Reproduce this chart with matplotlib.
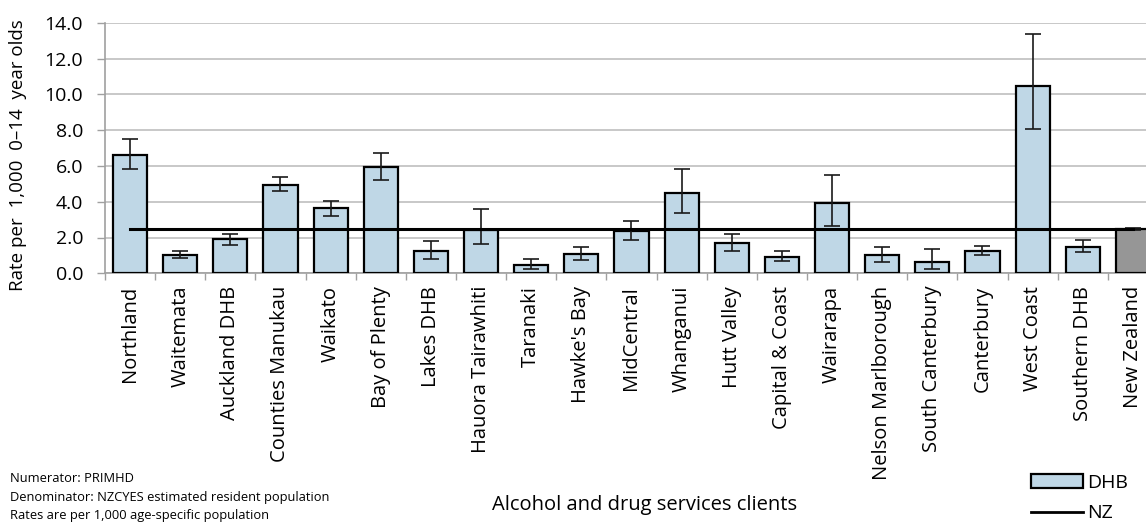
import matplotlib
matplotlib.use("Agg")
import matplotlib.pyplot as plt
import numpy as np
from matplotlib.patches import Patch
from matplotlib.lines import Line2D

plt.rcParams['font.family'] = ['Open Sans', 'DejaVu Sans']

categories = ["Northland", "Waitemata", "Auckland DHB", "Counties Manukau", "Waikato",
              "Bay of Plenty", "Lakes DHB", "Hauora Tairawhiti", "Taranaki", "Hawke's Bay",
              "MidCentral", "Whanganui", "Hutt Valley", "Capital & Coast", "Wairarapa",
              "Nelson Marlborough", "South Canterbury", "Canterbury", "West Coast",
              "Southern DHB", "New Zealand"]
rates = [6.62, 1.03, 1.89, 4.96, 3.63, 5.93, 1.27, 2.43, 0.47, 1.08, 2.36, 4.47, 1.69,
         0.93, 3.91, 1.01, 0.65, 1.27, 10.45, 1.49, 2.47]
ci_low = [5.80, 0.84, 1.59, 4.57, 3.22, 5.24, 0.82, 1.66, 0.22, 0.75, 1.85, 3.37, 1.24,
          0.71, 2.67, 0.65, 0.24, 1.04, 8.07, 1.20, 2.43]
ci_high = [7.49, 1.25, 2.21, 5.39, 4.06, 6.70, 1.81, 3.60, 0.82, 1.48, 2.90, 5.82, 2.22,
           1.25, 5.48, 1.46, 1.35, 1.52, 13.39, 1.85, 2.52]
nz_rate = 2.47
yticks = [0, 2, 4, 6, 8, 10, 12, 14]

W, H = 1146, 525
fig = plt.figure(figsize=(W / 100, H / 100), dpi=100)
left, right, bottom, top = 105, 1158, 273.3, 22.7
ax = fig.add_axes([left / W, 1 - bottom / H, (right - left) / W, (bottom - top) / H])

x = np.arange(len(categories))
rates_a = np.array(rates)
yerr = np.vstack([rates_a - np.array(ci_low), np.array(ci_high) - rates_a])
colors = ['#BFD7E6'] * (len(categories) - 1) + ['#969696']

ax.bar(x, rates, width=0.68, color=colors, edgecolor='black', linewidth=1.6, zorder=3)
ax.errorbar(x, rates, yerr=yerr, fmt='none', ecolor='#1a1a1a', elinewidth=1.2,
            capsize=6, capthick=1.2, zorder=4)
ax.plot([x[0], x[-1]], [nz_rate, nz_rate], color='black', linewidth=2.2, zorder=5)

ax.set_xlim(-0.5, len(categories) - 0.5)
ax.set_ylim(0, 14)
ax.set_yticks(yticks)
ax.set_yticklabels([f"{v:.1f}" for v in yticks], fontsize=14)
ax.set_xticks(np.arange(len(categories) + 1) - 0.5, minor=False)
ax.set_xticklabels([])
ax.set_xticks(x, minor=True)
ax.set_xticklabels(categories, minor=True, rotation=90, fontsize=14.5, va='top', ha='center')
ax.tick_params(axis='x', which='minor', length=0, pad=9)
ax.tick_params(axis='x', which='major', length=5, color='#A0A0A0', width=1)
ax.tick_params(axis='y', length=5.8, color='#A0A0A0', width=1, pad=10)

ax.grid(axis='y', color='#C8C8C8', linewidth=1.4, zorder=0)
ax.set_axisbelow(True)
for s in ['top', 'right']:
    ax.spines[s].set_visible(False)
for s in ['left', 'bottom']:
    ax.spines[s].set_color('#A0A0A0')
    ax.spines[s].set_linewidth(1.2)

fig.text(18 / W, 1 - 155 / H, "Rate per  1,000  0\u201314  year olds", rotation=90,
         fontsize=13.5, ha='center', va='center')

notes = ["Numerator: PRIMHD", "Denominator: NZCYES estimated resident population",
         "Rates are per 1,000 age-specific population"]
for i, t in enumerate(notes):
    fig.text(10 / W, 1 - (478 + 19 * i) / H, t, fontsize=9.3, ha='left', va='center')

fig.text(645 / W, 1 - 505 / H, "Alcohol and drug services clients", fontsize=14.5,
         ha='center', va='center')

handles = [Patch(facecolor='#BFD7E6', edgecolor='black', linewidth=1.6),
           Line2D([0], [0], color='black', linewidth=2)]
fig.legend(handles, ["DHB", "NZ"], loc='center left', bbox_to_anchor=(1021 / W, 1 - 498 / H),
           frameon=False, fontsize=14, handlelength=2.7, handleheight=0.7,
           handletextpad=0.2, labelspacing=0.65, borderpad=0)

fig.savefig("out.png", dpi=100)
